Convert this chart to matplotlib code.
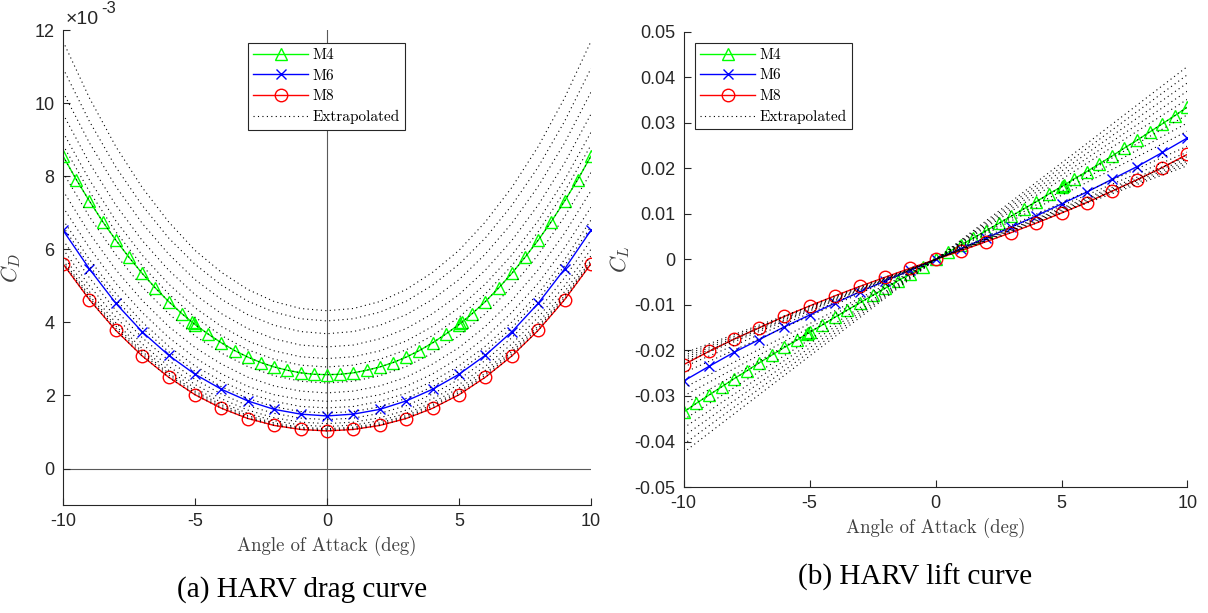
import numpy as np
import matplotlib.pyplot as plt
from matplotlib.ticker import FuncFormatter

plt.rcParams['axes.unicode_minus'] = False
plt.rcParams['mathtext.fontset'] = 'cm'

# angle of attack grids (deg)
alpha_m4 = [-10, -9.5, -9, -8.5, -8, -7.5, -7, -6.5, -6, -5.5, -5.1, -5.05, -5,
            -4.5, -4, -3.5, -3, -2.5, -2, -1.5, -1, -0.5, 0, 0.5, 1, 1.5, 2,
            2.5, 3, 3.5, 4, 4.5, 5, 5.05, 5.1, 5.5, 6, 6.5, 7, 7.5, 8, 8.5, 9,
            9.5, 10]
alpha = list(range(-10, 11))

# drag coefficient, in units of 1e-3
cd_m4 = [8.55, 7.91, 7.32, 6.76, 6.25, 5.78, 5.34, 4.94, 4.57, 4.24, 4.00, 3.97,
         3.94, 3.68, 3.44, 3.23, 3.05, 2.90, 2.78, 2.69, 2.62, 2.58, 2.57, 2.58,
         2.62, 2.69, 2.78, 2.90, 3.05, 3.23, 3.44, 3.68, 3.94, 3.97, 4.00, 4.24,
         4.57, 4.94, 5.34, 5.78, 6.25, 6.76, 7.32, 7.91, 8.55]
cd_m6 = [6.52, 5.46, 4.52, 3.74, 3.10, 2.58, 2.17, 1.85, 1.62, 1.49, 1.44,
         1.49, 1.62, 1.85, 2.17, 2.58, 3.10, 3.74, 4.52, 5.46, 6.52]
cd_m8 = [5.60, 4.62, 3.78, 3.08, 2.50, 2.02, 1.65, 1.37, 1.18, 1.07, 1.03,
         1.07, 1.18, 1.37, 1.65, 2.02, 2.50, 3.08, 3.78, 4.62, 5.60]

# extrapolated drag curves on the integer grid, units of 1e-3
cd_extrap = [
    [11.69, 10.14, 8.81, 7.69, 6.75, 5.97, 5.37, 4.90, 4.57, 4.38, 4.32, 4.38, 4.57, 4.90, 5.37, 5.97, 6.75, 7.69, 8.81, 10.14, 11.69],
    [10.95, 9.50, 8.25, 7.20, 6.31, 5.59, 5.02, 4.58, 4.28, 4.10, 4.04, 4.10, 4.28, 4.58, 5.02, 5.59, 6.31, 7.20, 8.25, 9.50, 10.95],
    [10.30, 8.91, 7.72, 6.71, 5.87, 5.17, 4.63, 4.21, 3.92, 3.75, 3.69, 3.75, 3.92, 4.21, 4.63, 5.17, 5.87, 6.71, 7.72, 8.91, 10.30],
    [9.70, 8.36, 7.21, 6.24, 5.43, 4.76, 4.24, 3.83, 3.55, 3.38, 3.33, 3.38, 3.55, 3.83, 4.24, 4.76, 5.43, 6.24, 7.21, 8.36, 9.70],
    [9.20, 7.90, 6.78, 5.84, 5.05, 4.40, 3.89, 3.49, 3.22, 3.06, 3.01, 3.06, 3.22, 3.49, 3.89, 4.40, 5.05, 5.84, 6.78, 7.90, 9.20],
    [8.85, 7.58, 6.48, 5.55, 4.78, 4.14, 3.64, 3.25, 2.99, 2.83, 2.78, 2.83, 2.99, 3.25, 3.64, 4.14, 4.78, 5.55, 6.48, 7.58, 8.85],
    [8.10, 6.89, 5.85, 4.97, 4.24, 3.63, 3.16, 2.79, 2.54, 2.39, 2.34, 2.39, 2.54, 2.79, 3.16, 3.63, 4.24, 4.97, 5.85, 6.89, 8.10],
    [7.60, 6.44, 5.44, 4.60, 3.89, 3.31, 2.86, 2.50, 2.26, 2.12, 2.07, 2.12, 2.26, 2.50, 2.86, 3.31, 3.89, 4.60, 5.44, 6.44, 7.60],
    [7.15, 6.04, 5.07, 4.27, 3.59, 3.03, 2.59, 2.25, 2.02, 1.89, 1.84, 1.89, 2.02, 2.25, 2.59, 3.03, 3.59, 4.27, 5.07, 6.04, 7.15],
    [6.80, 5.72, 4.79, 4.01, 3.35, 2.81, 2.39, 2.06, 1.84, 1.70, 1.66, 1.70, 1.84, 2.06, 2.39, 2.81, 3.35, 4.01, 4.79, 5.72, 6.80],
    [6.62, 5.55, 4.63, 3.85, 3.20, 2.66, 2.24, 1.92, 1.69, 1.56, 1.52, 1.56, 1.69, 1.92, 2.24, 2.66, 3.20, 3.85, 4.63, 5.55, 6.62],
    [6.25, 5.22, 4.33, 3.58, 2.96, 2.44, 2.04, 1.72, 1.51, 1.38, 1.34, 1.38, 1.51, 1.72, 2.04, 2.44, 2.96, 3.58, 4.33, 5.22, 6.25],
    [6.00, 5.00, 4.14, 3.41, 2.80, 2.30, 1.91, 1.60, 1.39, 1.27, 1.23, 1.27, 1.39, 1.60, 1.91, 2.30, 2.80, 3.41, 4.14, 5.00, 6.00],
    [5.82, 4.84, 3.99, 3.28, 2.69, 2.20, 1.81, 1.51, 1.31, 1.19, 1.15, 1.19, 1.31, 1.51, 1.81, 2.20, 2.69, 3.28, 3.99, 4.84, 5.82],
    [5.70, 4.73, 3.90, 3.20, 2.61, 2.12, 1.75, 1.45, 1.25, 1.13, 1.09, 1.13, 1.25, 1.45, 1.75, 2.12, 2.61, 3.20, 3.90, 4.73, 5.70],
    [5.65, 4.68, 3.84, 3.14, 2.56, 2.07, 1.70, 1.41, 1.21, 1.10, 1.06, 1.10, 1.21, 1.41, 1.70, 2.07, 2.56, 3.14, 3.84, 4.68, 5.65],
]

# lift coefficient
cl_m4 = [-0.0335, -0.0316, -0.0298, -0.0280, -0.0262, -0.0245, -0.0227, -0.0210,
         -0.0193, -0.0177, -0.0163, -0.0162, -0.0160, -0.0144, -0.0127, -0.0111,
         -0.0095, -0.0079, -0.0063, -0.0047, -0.0032, -0.0016, 0.0, 0.0016,
         0.0032, 0.0047, 0.0063, 0.0079, 0.0095, 0.0111, 0.0127, 0.0144, 0.0160,
         0.0162, 0.0163, 0.0177, 0.0193, 0.0210, 0.0227, 0.0245, 0.0262, 0.0280,
         0.0298, 0.0316, 0.0335]
cl_m6 = [-0.0267, -0.0235, -0.0204, -0.0176, -0.0148, -0.0122, -0.0096, -0.0071,
         -0.0047, -0.0024, 0.0, 0.0024, 0.0047, 0.0071, 0.0096, 0.0122, 0.0148,
         0.0176, 0.0204, 0.0235, 0.0267]
cl_m8 = [-0.0231, -0.0202, -0.0175, -0.0150, -0.0125, -0.0102, -0.0080, -0.0059,
         -0.0039, -0.0019, 0.0, 0.0019, 0.0039, 0.0059, 0.0080, 0.0102, 0.0125,
         0.0150, 0.0175, 0.0202, 0.0231]

# extrapolated lift lines, values at -10 and +10 deg
cl_ext_neg = [-0.0424, -0.0406, -0.0388, -0.0370, -0.0352, -0.0318, -0.0300,
              -0.0282, -0.0249, -0.0236, -0.0226, -0.0221, -0.0216, -0.0211, -0.0206]
cl_ext_pos = [0.0424, 0.0406, 0.0388, 0.0370, 0.0352, 0.0318, 0.0300,
              0.0282, 0.0249, 0.0236, 0.0226, 0.0221, 0.0216, 0.0211, 0.0206]

tick_font = dict(family='Liberation Sans', size=13)
lab_font = dict(family='cmr10', size=13.5)
dot = dict(color='k', lw=0.8, dashes=(1, 3))

fig = plt.figure(figsize=(12.08, 6.13), dpi=100)
ax1 = fig.add_axes([0.0522, 0.176, 0.437, 0.775])
ax2 = fig.add_axes([0.566, 0.2055, 0.417, 0.7425])

s = 1e-3
a = np.array(alpha)
ax1.axvline(0, color='0.35', lw=0.8, zorder=0.5)
ax1.axhline(0, color='0.35', lw=0.8, zorder=0.5)
ax1.plot(alpha_m4, np.array(cd_m4) * s, color=(0, 1, 0), lw=1, marker='^',
         ms=9, mfc='none', label='M4')
ax1.plot(a, np.array(cd_m6) * s, color='b', lw=1, marker='x', ms=7, label='M6')
ax1.plot(a, np.array(cd_m8) * s, color='r', lw=1, marker='o', ms=9,
         mfc='none', label='M8')
for i, row in enumerate(cd_extrap):
    ax1.plot(a, np.array(row) * s, label='Extrapolated' if i == 0 else None, **dot)
ax1.plot(alpha_m4, np.array(cd_m4) * s, **dot)
ax1.plot(a, np.array(cd_m8) * s, **dot)

ax2.plot(alpha_m4, cl_m4, color=(0, 1, 0), lw=1, marker='^', ms=9,
         mfc='none', label='M4')
ax2.plot(a, cl_m6, color='b', lw=1, marker='x', ms=7, label='M6')
ax2.plot(a, cl_m8, color='r', lw=1, marker='o', ms=9, mfc='none', label='M8')
for i, (lo, hi) in enumerate(zip(cl_ext_neg, cl_ext_pos)):
    ax2.plot([-10, 10], [lo, hi], label='Extrapolated' if i == 0 else None, **dot)
ax2.plot(alpha_m4, cl_m4, **dot)
ax2.plot(a, cl_m8, **dot)

ax1.set_xlim(-10, 10)
ax1.set_ylim(-1e-3, 12e-3)
ax1.set_yticks(np.arange(0, 13, 2) * s)
ax1.yaxis.set_major_formatter(FuncFormatter(lambda v, p: '%g' % round(v / s, 6)))
ax2.set_xlim(-10, 10)
ax2.set_ylim(-0.05, 0.05)
ax2.set_yticks(np.arange(-5, 6) * 0.01)
ax2.yaxis.set_major_formatter(FuncFormatter(lambda v, p: '%g' % round(v, 6)))

for ax in (ax1, ax2):
    ax.set_xticks([-10, -5, 0, 5, 10])
    for sp in ('top', 'right'):
        ax.spines[sp].set_visible(False)
    for sp in ('left', 'bottom'):
        ax.spines[sp].set_color('0.15')
        ax.spines[sp].set_linewidth(0.8)
    ax.tick_params(direction='in', length=5, width=0.8, color='0.15', pad=6)
    for t in ax.get_xticklabels() + ax.get_yticklabels():
        t.set_fontfamily(tick_font['family'])
        t.set_fontsize(tick_font['size'])
        t.set_color('0.15')
    ax.set_xlabel('Angle of Attack (deg)', color='0.25', labelpad=4, **lab_font)

ax1.set_ylabel(r'$C_D$', fontsize=16, color='0.25', labelpad=8)
ax2.set_ylabel(r'$C_L$', fontsize=16, color='0.25', labelpad=2)

ax1.text(0.004, 1.004, '\u00d710', transform=ax1.transAxes, ha='left',
         va='bottom', color='0.15', family='Liberation Sans', size=14)
ax1.text(0.072, 1.03, '-3', transform=ax1.transAxes, ha='left', va='bottom',
         color='0.15', family='Liberation Sans', size=12)

leg_kw = dict(prop={'family': 'cmr10', 'size': 11}, frameon=True, fancybox=False,
              framealpha=1, edgecolor='0.15', numpoints=1, handlelength=3.6,
              labelspacing=0.45, borderpad=0.35, handletextpad=0.3, borderaxespad=0)
l1 = ax1.legend(loc='upper left', bbox_to_anchor=(0.35, 0.973), **leg_kw)
l2 = ax2.legend(loc='upper left', bbox_to_anchor=(0.022, 0.976), **leg_kw)
for leg in (l1, l2):
    leg.get_frame().set_linewidth(0.8)

fig.text(302 / 1208, 1 - 590 / 613, '(a) HARV drag curve', ha='center',
         va='center', family='Liberation Serif', size=21)
fig.text(915 / 1208, 1 - 577 / 613, '(b) HARV lift curve', ha='center',
         va='center', family='Liberation Serif', size=21)

fig.savefig('out.png', dpi=100)
